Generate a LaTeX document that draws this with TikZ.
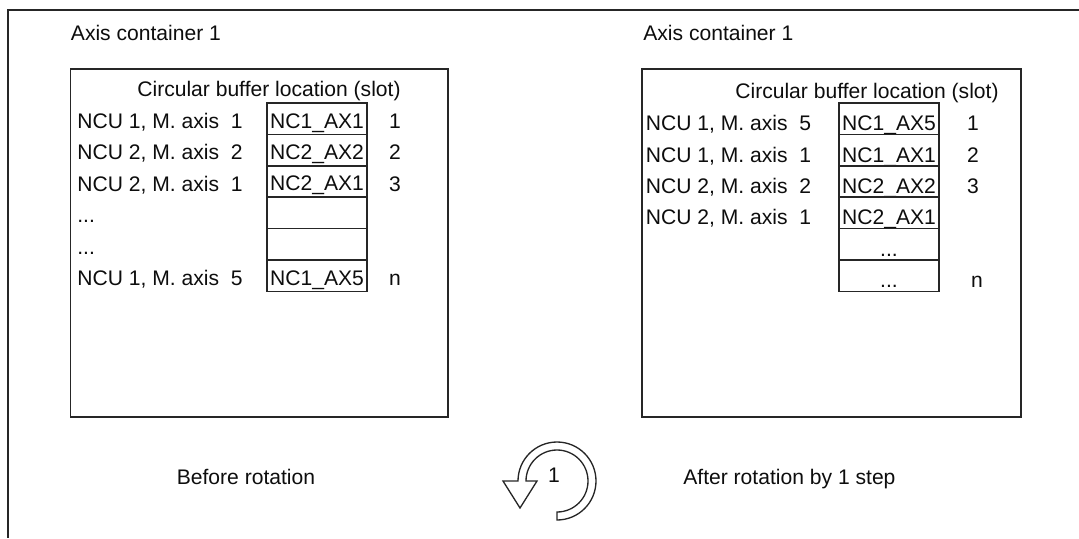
\documentclass[tikz,border=0pt]{standalone}
\usepackage{fontspec}
\setmainfont{Liberation Sans}
\begin{document}
\begin{tikzpicture}[x=0.02cm, y=-0.02cm,
    every node/.style={font=\fontsize{12pt}{14pt}\selectfont, text=black!95, inner sep=0pt},
    txt/.style={anchor=base west},
    num/.style={anchor=base},
    frame/.style={draw=black!85, line width=1.1pt},
    box/.style={draw=black!85, line width=0.9pt},
    cell/.style={draw=black!85, line width=0.9pt, minimum width=2cm, minimum height=0.628cm, text height=12pt, text depth=1.2pt},
    celllow/.style={cell, text height=14pt, text depth=0.4pt}]
  \useasboundingbox (0,0) rectangle (1079,538);
  \draw[frame] (1079,10) -- (8,10) -- (8,538);

  % before rotation
  \node[txt] (titleA) at (70.6,40.6) {Axis container 1};
  \draw[box] (70.6,69) rectangle (448,417);
  \node[txt] (slotA) at (137,96.5) {Circular buffer location (slot)};
  \node[txt] (ax1A) at (77,128.2) {NCU 1, M. axis~~1};
  \node[txt] (ax2A) at (77,159.6) {NCU 2, M. axis~~2};
  \node[txt] (ax3A) at (77,191) {NCU 2, M. axis~~1};
  \node[txt] (dots1A) at (77,222) {...};
  \node[txt] (dots2A) at (77,254) {...};
  \node[txt] (ax5A) at (77,285.2) {NCU 1, M. axis~~5};
  \node[cell] (l1) at (317,118.7) {NC1\_AX1};
  \node[cell] (l2) at (317,150.1) {NC2\_AX2};
  \node[cell] (l3) at (317,181.5) {NC2\_AX1};
  \node[cell] (l4) at (317,212.9) {};
  \node[cell] (l5) at (317,244.3) {};
  \node[cell] (l6) at (317,275.7) {NC1\_AX5};
  \node[num] (n1A) at (395,128.2) {1};
  \node[num] (n2A) at (395,159.6) {2};
  \node[num] (n3A) at (395,191) {3};
  \node[num] (nnA) at (395,285.2) {n};
  \node[txt] (before) at (176.5,484) {Before rotation};

  % after rotation
  \node[txt] (titleB) at (643,40.6) {Axis container 1};
  \draw[box] (642,69) rectangle (1021,417);
  \node[txt] (slotB) at (735,98) {Circular buffer location (slot)};
  \node[txt] (ax5B) at (645.5,130.7) {NCU 1, M. axis~~5};
  \node[txt] (ax1B) at (645.5,162.1) {NCU 1, M. axis~~1};
  \node[txt] (ax2B) at (645.5,193.5) {NCU 2, M. axis~~2};
  \node[txt] (ax3B) at (645.5,224.9) {NCU 2, M. axis~~1};
  \node[celllow] (r1) at (889,118.7) {NC1\_AX5};
  \node[celllow] (r2) at (889,150.1) {NC1\_AX1};
  \node[celllow] (r3) at (889,181.5) {NC2\_AX2};
  \node[celllow] (r4) at (889,212.9) {NC2\_AX1};
  \node[celllow] (r5) at (889,244.3) {...};
  \node[celllow] (r6) at (889,275.7) {...};
  \node[num] (n1B) at (973,130.7) {1};
  \node[num] (n2B) at (973,162.1) {2};
  \node[num] (n3B) at (973,193.5) {3};
  \node[num] (nnB) at (977,287.5) {n};
  \node[txt] (after) at (683,484) {After rotation by 1 step};

  % rotation arrow
  \begin{scope}[shift={(557,481)}, x=0.02cm, y=0.02cm]
    \draw[draw=black!85, fill=white, line width=0.75pt, line join=miter]
      (0,-39) arc[start angle=-90, end angle=180, radius=39]
      -- (-54,0) -- (-37,-27) -- (-20,0) -- (-31,0)
      arc[start angle=180, end angle=-90, radius=31] -- cycle;
  \end{scope}
  \node (step) at (554,475) {1};
\end{tikzpicture}
\end{document}
